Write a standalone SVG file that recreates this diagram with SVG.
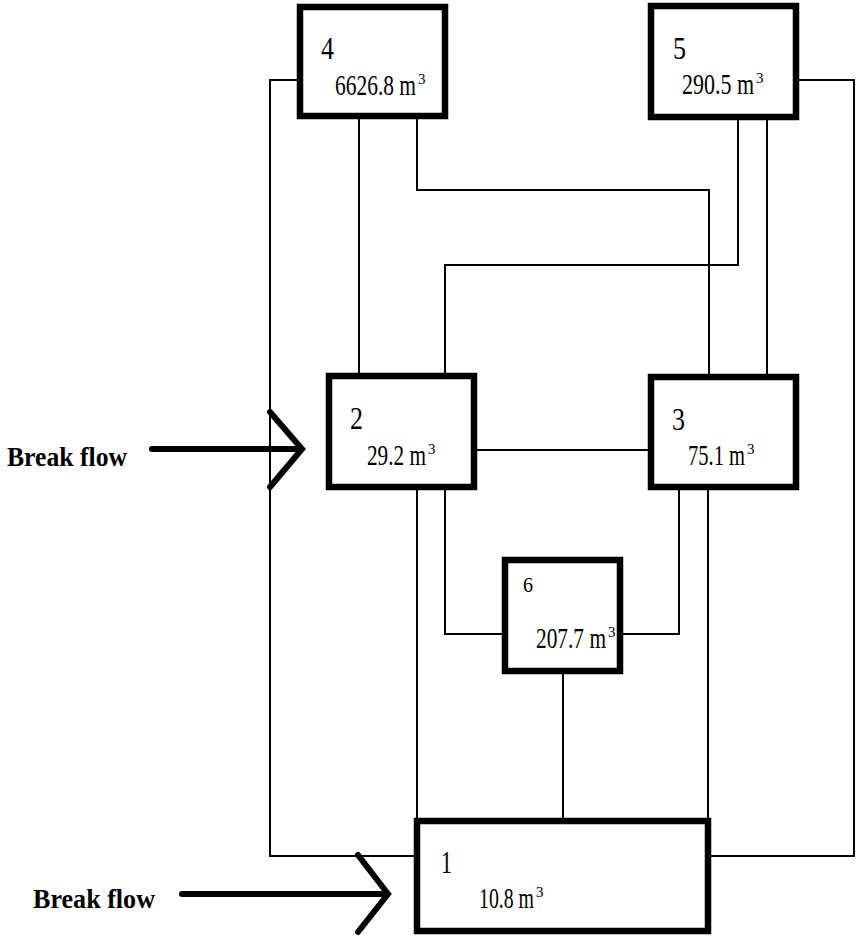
<svg xmlns="http://www.w3.org/2000/svg" width="856" height="937" viewBox="0 0 856 937">
<style>
.box{fill:#fff;stroke:#000;stroke-width:6.5}
.c{fill:none;stroke:#000;stroke-width:2}
.ar{fill:none;stroke:#000;stroke-width:6;stroke-linecap:round;stroke-linejoin:miter}
text{font-family:"Liberation Serif","Times New Roman",serif;fill:#000}
.id{font-size:32px}
.v{font-size:29px}
.sup{font-size:15px}
.bf{font-size:27px;font-weight:bold}
</style>
<rect width="856" height="937" fill="#fff"/>
<g id="connectors">
<path class="c" d="M297,80 H270 V856 H414"/>
<path class="c" d="M799,80 H854 V856 H711"/>
<path class="c" d="M359,119 V373"/>
<path class="c" d="M417,119 V190 H709 V374"/>
<path class="c" d="M738,120 V265 H445 V373"/>
<path class="c" d="M767,120 V374"/>
<path class="c" d="M477,450 H648"/>
<path class="c" d="M417,490 V818"/>
<path class="c" d="M445,490 V634 H502"/>
<path class="c" d="M679,490 V634 H623"/>
<path class="c" d="M708,490 V818"/>
<path class="c" d="M563,674 V818"/>
</g>
<g id="node4">
<rect class="box" x="300" y="7" width="145" height="109"/>
<text class="id" x="321" y="59" textLength="13" lengthAdjust="spacingAndGlyphs">4</text>
<text class="v" x="335" y="95" textLength="81" lengthAdjust="spacingAndGlyphs">6626.8 m</text>
<text class="sup" x="418" y="84">3</text>
</g>
<g id="node5">
<rect class="box" x="651" y="6" width="145" height="111"/>
<text class="id" x="673" y="59" textLength="13" lengthAdjust="spacingAndGlyphs">5</text>
<text class="v" x="682" y="94" textLength="72" lengthAdjust="spacingAndGlyphs">290.5 m</text>
<text class="sup" x="756" y="83">3</text>
</g>
<g id="node2">
<rect class="box" x="329" y="376" width="145" height="111"/>
<text class="id" x="350" y="429" textLength="13" lengthAdjust="spacingAndGlyphs">2</text>
<text class="v" x="367" y="465" textLength="59" lengthAdjust="spacingAndGlyphs">29.2 m</text>
<text class="sup" x="428" y="454">3</text>
</g>
<g id="node3">
<rect class="box" x="651" y="377" width="145" height="110"/>
<text class="id" x="672" y="430" textLength="13" lengthAdjust="spacingAndGlyphs">3</text>
<text class="v" x="688" y="465" textLength="57" lengthAdjust="spacingAndGlyphs">75.1 m</text>
<text class="sup" x="747" y="454">3</text>
</g>
<g id="node6">
<rect class="box" x="505" y="560" width="115" height="111"/>
<text x="523" y="592" style="font-size:21px" textLength="10" lengthAdjust="spacingAndGlyphs">6</text>
<text class="v" x="536" y="648" textLength="70" lengthAdjust="spacingAndGlyphs">207.7 m</text>
<text class="sup" x="608" y="637">3</text>
</g>
<g id="node1">
<rect class="box" x="417" y="821" width="291" height="110"/>
<text class="id" x="441" y="873" textLength="11" lengthAdjust="spacingAndGlyphs">1</text>
<text class="v" x="479" y="908" textLength="55" lengthAdjust="spacingAndGlyphs">10.8 m</text>
<text class="sup" x="536" y="897">3</text>
</g>
<g id="breakflow1">
<text class="bf" x="7" y="466" textLength="120" lengthAdjust="spacingAndGlyphs">Break flow</text>
<path class="ar" d="M152,449 H299"/>
<path class="ar" d="M270,412 L302,449 L270,487"/>
</g>
<g id="breakflow2">
<text class="bf" x="33" y="908" textLength="122" lengthAdjust="spacingAndGlyphs">Break flow</text>
<path class="ar" d="M182,894 H385"/>
<path class="ar" d="M358,855 L388,894 L358,932"/>
</g>
</svg>
